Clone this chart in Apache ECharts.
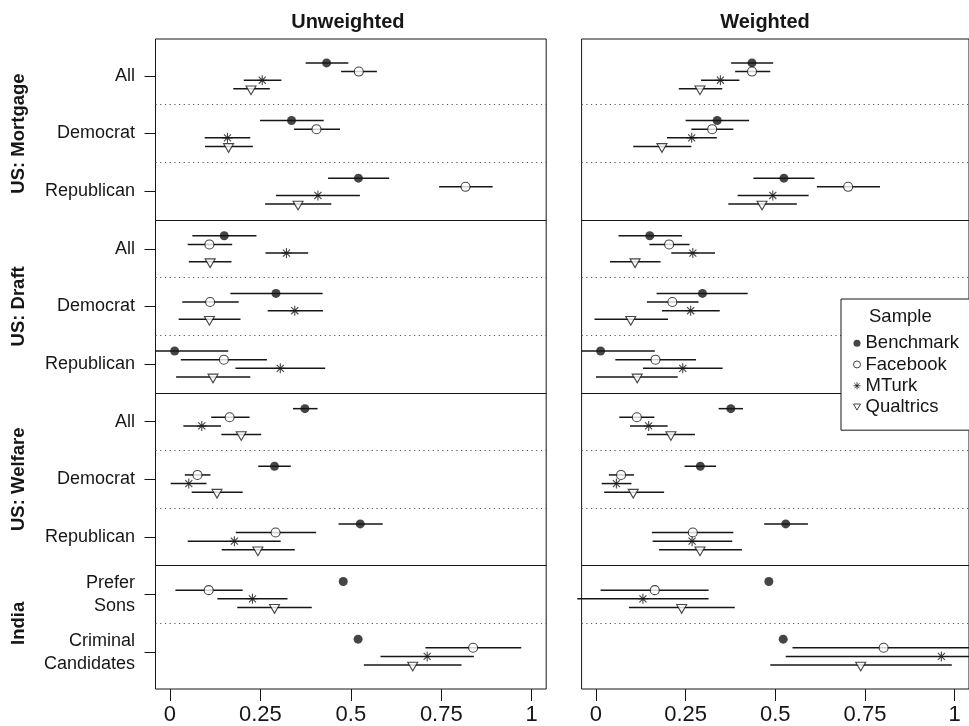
<!DOCTYPE html>
<html><head><meta charset="utf-8">
<script src="https://cdn.jsdelivr.net/npm/echarts@6/dist/echarts.min.js"></script>
<style>html,body{margin:0;padding:0;background:#fff}#c{width:969px;height:726px}</style>
</head><body><div id="c"></div>
<script>
// ---------- data ----------
const items = ['All','Democrat','Republican','All','Democrat','Republican','All','Democrat','Republican','Prefer\nSons','Criminal\nCandidates'];
const groups = ['US: Mortgage','US: Draft','US: Welfare','India'];
const groupCenters = [1, 4, 7, 9.5];
const panels = ['Unweighted','Weighted'];
const samples = ['Benchmark','Facebook','MTurk','Qualtrics'];
const xTicks = [0, 0.25, 0.5, 0.75, 1];
const itemTicks = [0,1,2,3,4,5,6,7,8,9,10];
const dottedAt = [0.5, 1.5, 3.5, 4.5, 6.5, 7.5, 9.5];
const solidAt = [2.5, 5.5, 8.5];

// Unweighted
const uwBenchEst = [0.433,0.336,0.521,0.150,0.293,0.013,0.373,0.289,0.526,0.479,0.520];
const uwBenchLo  = [0.375,0.249,0.437,0.062,0.167,-0.04,0.340,0.244,0.466,null,null];
const uwBenchHi  = [0.493,0.425,0.606,0.239,0.422,0.161,0.408,0.334,0.588,null,null];
const uwFbEst = [0.522,0.405,0.817,0.109,0.111,0.149,0.165,0.076,0.292,0.107,0.838];
const uwFbLo  = [0.473,0.343,0.744,0.049,0.034,0.030,0.114,0.041,0.182,0.015,0.706];
const uwFbHi  = [0.572,0.470,0.892,0.172,0.190,0.268,0.220,0.112,0.404,0.201,0.971];
const uwMtEst = [0.255,0.159,0.409,0.322,0.345,0.305,0.088,0.052,0.178,0.228,0.711];
const uwMtLo  = [0.204,0.096,0.293,0.264,0.270,0.181,0.037,0.002,0.049,0.131,0.582];
const uwMtHi  = [0.308,0.222,0.525,0.382,0.423,0.429,0.141,0.101,0.306,0.325,0.840];
const uwQuEst = [0.224,0.162,0.354,0.111,0.109,0.119,0.197,0.130,0.243,0.289,0.671];
const uwQuLo  = [0.175,0.097,0.263,0.052,0.024,0.017,0.142,0.060,0.143,0.186,0.536];
const uwQuHi  = [0.276,0.229,0.446,0.170,0.195,0.222,0.252,0.201,0.345,0.392,0.806];

// Weighted
const wBenchEst = [0.435,0.338,0.524,0.150,0.297,0.013,0.376,0.291,0.529,0.482,0.522];
const wBenchLo  = [0.377,0.250,0.439,0.063,0.169,-0.04,0.342,0.247,0.469,null,null];
const wBenchHi  = [0.494,0.427,0.609,0.240,0.423,0.164,0.410,0.335,0.591,null,null];
const wFbEst = [0.435,0.324,0.703,0.204,0.213,0.166,0.114,0.070,0.270,0.164,0.802];
const wFbLo  = [0.388,0.266,0.616,0.149,0.142,0.054,0.065,0.036,0.156,0.013,0.548];
const wFbHi  = [0.486,0.383,0.792,0.261,0.286,0.279,0.163,0.106,0.383,0.314,1.060];
const wMtEst = [0.347,0.267,0.493,0.270,0.264,0.242,0.147,0.057,0.268,0.131,0.963];
const wMtLo  = [0.293,0.198,0.395,0.210,0.184,0.131,0.095,0.016,0.158,-0.052,0.529];
const wMtHi  = [0.400,0.337,0.593,0.332,0.345,0.353,0.200,0.099,0.380,0.314,1.100];
const wQuEst = [0.290,0.184,0.463,0.109,0.097,0.115,0.209,0.104,0.290,0.239,0.738];
const wQuLo  = [0.231,0.104,0.369,0.039,-0.004,0.000,0.142,0.023,0.176,0.092,0.486];
const wQuHi  = [0.352,0.266,0.560,0.180,0.201,0.228,0.276,0.190,0.407,0.387,0.992];

// ---------- assembly ----------
const panelData = [
  [[uwBenchEst,uwBenchLo,uwBenchHi],[uwFbEst,uwFbLo,uwFbHi],[uwMtEst,uwMtLo,uwMtHi],[uwQuEst,uwQuLo,uwQuHi]],
  [[wBenchEst,wBenchLo,wBenchHi],[wFbEst,wFbLo,wFbHi],[wMtEst,wMtLo,wMtHi],[wQuEst,wQuLo,wQuHi]]
];
const sampleOffsets = [-0.225, -0.075, 0.075, 0.225];
const INK = '#161616';
const FONT = '"Liberation Sans", Arial, Helvetica, sans-serif';
const ASTER = 'path://M5,0 L5,10 M0,5 L10,5 M1.46,1.46 L8.54,8.54 M1.46,8.54 L8.54,1.46';
const TRI = 'path://M0,0 L10,0 L5,8.66 Z';
const symStyles = [
  {symbol:'circle', symbolSize:9, symbolOffset:[0,0], itemStyle:{color:INK, borderWidth:0}},
  {symbol:'circle', symbolSize:9, symbolOffset:[0,0], itemStyle:{color:'#fff', borderColor:INK, borderWidth:1.1}},
  {symbol:ASTER, symbolSize:10, symbolOffset:[0,0], itemStyle:{color:'none', borderColor:INK, borderWidth:1.1}},
  {symbol:TRI, symbolSize:[10,8.7], symbolOffset:[0,1.5], itemStyle:{color:'#fff', borderColor:INK, borderWidth:1.1}}
];
const legendIcons = [
  {icon:'circle', itemStyle:{color:INK, borderWidth:0}},
  {icon:'circle', itemStyle:{color:'#fff', borderColor:INK, borderWidth:1}},
  {icon:ASTER, itemStyle:{color:'none', borderColor:INK, borderWidth:1}},
  {icon:TRI, itemStyle:{color:'#fff', borderColor:INK, borderWidth:1}}
];

const gridDefs = [
  {left:155.5, top:39, width:390.7, height:650},
  {left:581.6, top:39, width:389.5, height:650}
];

const series = [];
for (let p = 0; p < 2; p++) {
  series.push({
    type:'line', xAxisIndex:p, yAxisIndex:p, data:[], silent:true,
    markLine:{
      silent:true, symbol:['none','none'], label:{show:false}, animation:false,
      data: dottedAt.map(v => ({yAxis:v, lineStyle:{type:[1.2,3.5], color:'#555', width:1}}))
        .concat(solidAt.map(v => ({yAxis:v, lineStyle:{type:'solid', color:INK, width:1}})))
    }
  });
  for (let s = 0; s < 4; s++) {
    const [est, lo, hi] = panelData[p][s];
    const bars = [];
    items.forEach((_, i) => { if (lo[i] != null) bars.push([lo[i], hi[i], i + sampleOffsets[s]]); });
    series.push({
      type:'custom', name:'ci-'+p+'-'+s, xAxisIndex:p, yAxisIndex:p, clip:false, silent:true,
      data: bars, encode:{x:[0,1], y:2}, z:3,
      renderItem:(params, api) => {
        const a = api.coord([api.value(0), api.value(2)]);
        const b = api.coord([api.value(1), api.value(2)]);
        return {type:'line', shape:{x1:a[0], y1:a[1], x2:b[0], y2:b[1]}, style:{stroke:INK, lineWidth:1.5}};
      }
    });
    series.push(Object.assign({
      type:'scatter', name:samples[s], xAxisIndex:p, yAxisIndex:p, clip:false, z:5,
      data: est.map((v, i) => [v, i + sampleOffsets[s]])
    }, symStyles[s]));
  }
}

const xAxes = gridDefs.map((g, p) => ({
  type:'value', gridIndex:p, min:-0.04, max:1.04, position:'bottom',
  splitLine:{show:false}, axisLine:{show:false, onZero:false},
  axisTick:{show:true, customValues:xTicks, length:12, lineStyle:{color:INK, width:1}},
  axisLabel:{customValues:xTicks, fontSize:22, color:INK, fontFamily:FONT, margin:15,
             formatter: v => String(v)}
}));
const yAxes = gridDefs.map((g, p) => ({
  type:'value', gridIndex:p, inverse:true, min:-0.64, max:10.64, position:'left',
  splitLine:{show:false}, axisLine:{show:false, onZero:false},
  axisTick:{show:p===0, customValues:itemTicks, length:11, lineStyle:{color:INK, width:1}},
  axisLabel:{show:p===0, customValues:itemTicks, fontSize:18, lineHeight:23, color:INK, fontFamily:FONT, margin:20.5,
             align:'right', formatter: v => items[Math.round(v)]}
}));

const chart = echarts.init(document.getElementById('c'), null, {renderer:'canvas'});
chart.setOption({
  animation:false,
  backgroundColor:'#fff',
  grid: gridDefs.map(g => Object.assign({show:true, borderColor:INK, borderWidth:1, backgroundColor:'transparent', containLabel:false}, g)),
  xAxis: xAxes,
  yAxis: yAxes,
  legend:{
    data: samples.map((n, s) => Object.assign({name:n}, legendIcons[s])),
    orient:'vertical', left:841, top:299, padding:[33.5,14,12.5,10],
    itemWidth:7, itemHeight:7, itemGap:0, selectedMode:false,
    textStyle:{fontSize:18.5, lineHeight:21.3, color:INK, fontFamily:FONT},
    borderColor:INK, borderWidth:1, backgroundColor:'#fff', z:10
  },
  series: series
});

const gfx = [];
panels.forEach((t, p) => {
  const g = gridDefs[p];
  const cx = p === 0 ? g.left + g.width/2 - 3 : 765;
  gfx.push({type:'text', x:cx, y:22, z:100, style:{text:t, fontSize:20, fontWeight:'bold', fontFamily:FONT, fill:INK, align:'center', verticalAlign:'middle'}});
});
groups.forEach((t, k) => {
  const y = chart.convertToPixel({yAxisIndex:0}, groupCenters[k]);
  gfx.push({type:'text', x:19, y:y, rotation:Math.PI/2, z:100, style:{text:t, fontSize:18.5, fontWeight:'bold', fontFamily:FONT, fill:INK, align:'center', verticalAlign:'middle'}});
});
gfx.push({type:'text', x:869, y:316.5, z:100, style:{text:'Sample', fontSize:18.5, fontFamily:FONT, fill:INK, align:'left', verticalAlign:'middle'}});
chart.setOption({graphic: gfx});
</script></body></html>
